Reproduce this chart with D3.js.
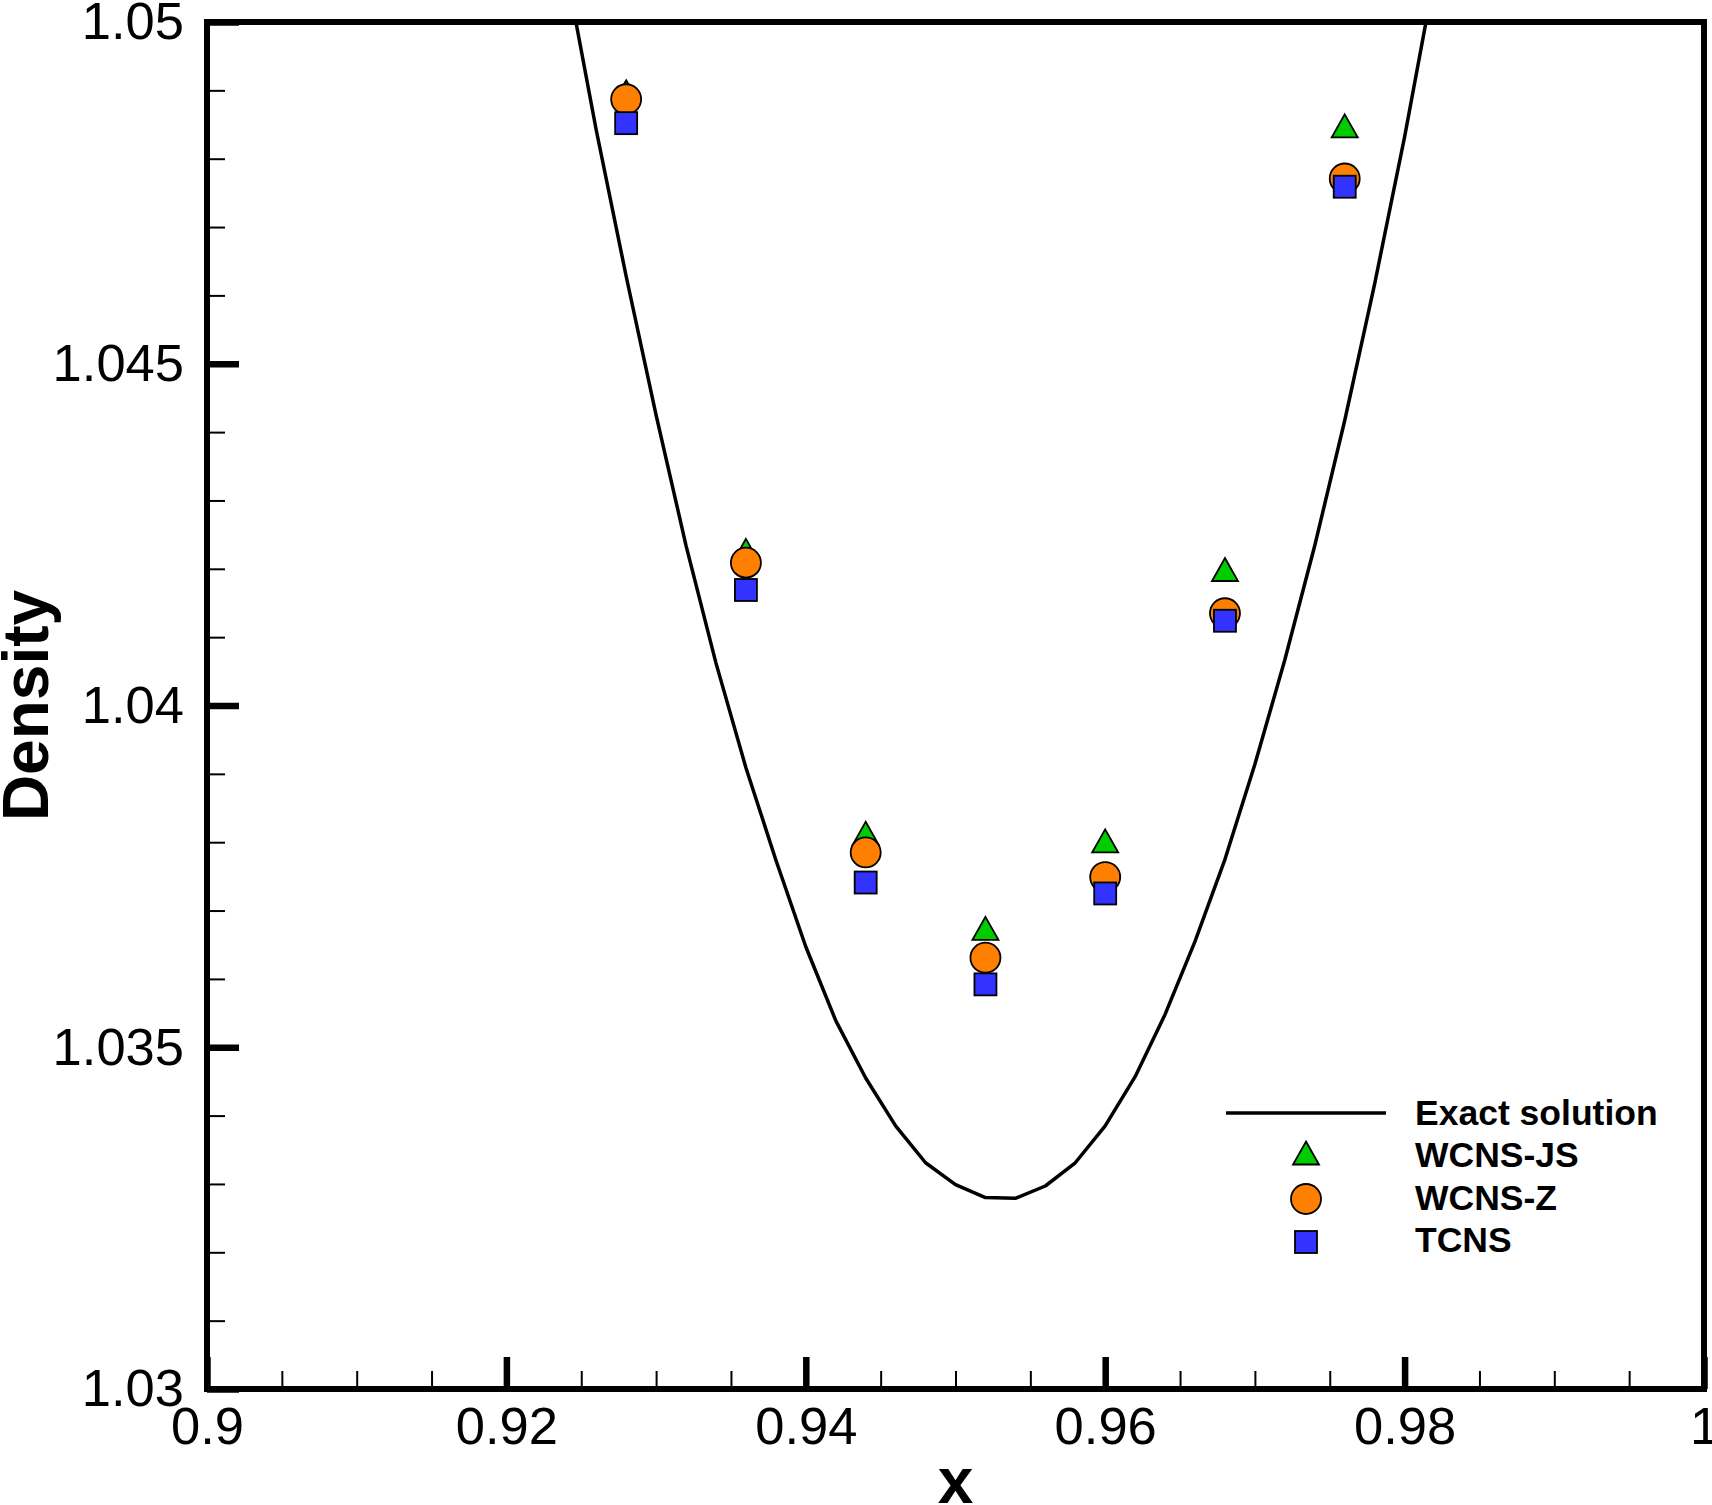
<!DOCTYPE html>
<html>
<head>
<meta charset="utf-8">
<script src="https://cdn.jsdelivr.net/npm/d3@7"></script>
<style>
  body { margin: 0; background: #fff; }
  svg { display: block; font-family: "Liberation Sans", Arial, sans-serif; }
</style>
</head>
<body>
<div id="chart"></div>
<script>
// ---------------- data ----------------
var xExact = [0.924, 0.926, 0.928, 0.930, 0.932, 0.934, 0.936, 0.938, 0.940, 0.942,
              0.944, 0.946, 0.948, 0.950, 0.952, 0.954, 0.956, 0.958, 0.960, 0.962,
              0.964, 0.966, 0.968, 0.970, 0.972, 0.974, 0.976, 0.978, 0.980, 0.982];
var rhoExact = [1.05075, 1.04842, 1.04628, 1.04425, 1.04234, 1.04062, 1.03909, 1.03774, 1.03647, 1.03539,
                1.03455, 1.03385, 1.03331, 1.03299, 1.03280, 1.03279, 1.03297, 1.03331, 1.03385, 1.03457,
                1.03548, 1.03655, 1.03775, 1.03914, 1.04067, 1.04234, 1.04417, 1.04617, 1.04832, 1.05067];

var xPts   = [0.928, 0.936, 0.944, 0.952, 0.960, 0.968, 0.976];
var wcnsJS = [1.04898, 1.04227, 1.03813, 1.03674, 1.03802, 1.04199, 1.04848];
var wcnsZ  = [1.04887, 1.04209, 1.03785, 1.03631, 1.03749, 1.04135, 1.04771];
var tcns   = [1.04852, 1.04169, 1.03741, 1.03592, 1.03725, 1.04124, 1.04759];

var xMajor = [0.9, 0.92, 0.94, 0.96, 0.98, 1];
var yMajor = [1.03, 1.035, 1.04, 1.045, 1.05];
var xMinorStep = 0.005;
var yMinorStep = 0.001;

var legendNames = ["Exact solution", "WCNS-JS", "WCNS-Z", "TCNS"];

// ---------------- layout ----------------
var width = 1712;
var height = 1505;
var pLeft = 207, pRight = 1704, pTop = 22, pBottom = 1389;
let green = "#00CC00";
let orange = "#FF8000";
let blue = "#3333FF";

var svg = d3.select("#chart").append("svg")
  .attr("width", width)
  .attr("height", height);

var x = d3.scaleLinear().domain([0.9, 1]).range([pLeft, pRight]);
var y = d3.scaleLinear().domain([1.03, 1.05]).range([pBottom, pTop]);

svg.append("clipPath").attr("id", "plotclip")
  .append("rect")
  .attr("x", pLeft).attr("y", pTop)
  .attr("width", pRight - pLeft).attr("height", pBottom - pTop);

//--------------- minor ticks ---------------
var xMinor = d3.range(0.9, 1.0001, xMinorStep).filter(function(d) {
  return !xMajor.some(function(m) { return Math.abs(m - d) < 1e-9; });
});
var yMinor = d3.range(1.03, 1.05001, yMinorStep).filter(function(d) {
  return !yMajor.some(function(m) { return Math.abs(m - d) < 1e-9; });
});

var gxMinor = svg.append("g")
  .attr("transform", "translate(0," + pBottom + ")")
  .call(d3.axisBottom(x).tickValues(xMinor).tickSize(-18).tickFormat(""));
var gyMinor = svg.append("g")
  .attr("transform", "translate(" + pLeft + ",0)")
  .call(d3.axisLeft(y).tickValues(yMinor).tickSize(-18).tickFormat(""));
[gxMinor, gyMinor].forEach(function(g) {
  g.select(".domain").remove();
  g.selectAll(".tick line").attr("stroke", "#000").attr("stroke-width", 2);
});

//--------------- major ticks + labels ---------------
var gx = svg.append("g")
  .attr("transform", "translate(0," + pBottom + ")")
  .call(d3.axisBottom(x).tickValues(xMajor).tickSize(-32).tickPadding(18)
        .tickFormat(function(d) { return d3.format("")(+d.toFixed(3)); }));
var gy = svg.append("g")
  .attr("transform", "translate(" + pLeft + ",0)")
  .call(d3.axisLeft(y).tickValues(yMajor).tickSize(-32).tickPadding(23)
        .tickFormat(function(d) { return d3.format("")(+d.toFixed(3)); }));
[gx, gy].forEach(function(g) {
  g.select(".domain").remove();
  g.selectAll(".tick line").attr("stroke", "#000").attr("stroke-width", 6.5);
  g.selectAll(".tick text")
    .attr("fill", "#000")
    .attr("font-size", 52.5)
    .attr("font-family", "Liberation Sans, Arial, sans-serif");
});

//--------------- exact solution ---------------
var exact = xExact.map(function(d, i) { return [d, rhoExact[i]]; });
svg.append("path")
  .datum(exact)
  .attr("clip-path", "url(#plotclip)")
  .attr("fill", "none")
  .attr("stroke", "#000")
  .attr("stroke-width", 3.5)
  .attr("stroke-linejoin", "round")
  .attr("d", d3.line().x(function(d) { return x(d[0]); }).y(function(d) { return y(d[1]); }));

//--------------- symbols ---------------
function triangle(cx, cy) {
  return (cx) + "," + (cy - 11.5) + " " + (cx + 13) + "," + (cy + 11.5) + " " + (cx - 13) + "," + (cy + 11.5);
}

var gSym = svg.append("g").attr("stroke", "#000").attr("stroke-width", 1.8);

gSym.selectAll(".tri").data(xPts).enter().append("polygon")
  .attr("class", "tri")
  .attr("points", function(d, i) { return triangle(x(d), y(wcnsJS[i])); })
  .attr("fill", green);

gSym.selectAll(".circ").data(xPts).enter().append("circle")
  .attr("class", "circ")
  .attr("cx", function(d) { return x(d); })
  .attr("cy", function(d, i) { return y(wcnsZ[i]); })
  .attr("r", 15)
  .attr("fill", orange);

gSym.selectAll(".sq").data(xPts).enter().append("rect")
  .attr("class", "sq")
  .attr("x", function(d) { return x(d) - 11; })
  .attr("y", function(d, i) { return y(tcns[i]) - 11; })
  .attr("width", 22)
  .attr("height", 22)
  .attr("fill", blue);

//--------------- frame ---------------
svg.append("rect")
  .attr("x", pLeft).attr("y", pTop)
  .attr("width", pRight - pLeft).attr("height", pBottom - pTop)
  .attr("fill", "none")
  .attr("stroke", "#000")
  .attr("stroke-width", 6);

//--------------- axis titles ---------------
svg.append("text")
  .attr("transform", "translate(48," + ((pTop + pBottom) / 2) + ") rotate(-90)")
  .attr("text-anchor", "middle")
  .attr("font-size", 64)
  .attr("font-weight", "bold")
  .text("Density");

svg.append("text")
  .attr("x", (pLeft + pRight) / 2)
  .attr("y", 1503)
  .attr("text-anchor", "middle")
  .attr("font-size", 64)
  .attr("font-weight", "bold")
  .text("x");

//--------------- legend ---------------
var legend = svg.append("g");
var lgBase = [1125, 1167, 1210, 1252];
var lgX = 1306;

legend.append("line")
  .attr("x1", 1226).attr("x2", 1386)
  .attr("y1", 1113).attr("y2", 1113)
  .attr("stroke", "#000").attr("stroke-width", 3.5);

legend.append("polygon")
  .attr("points", triangle(lgX, 1153))
  .attr("fill", green).attr("stroke", "#000").attr("stroke-width", 1.8);
legend.append("circle")
  .attr("cx", lgX).attr("cy", 1199).attr("r", 15)
  .attr("fill", orange).attr("stroke", "#000").attr("stroke-width", 1.8);
legend.append("rect")
  .attr("x", lgX - 11).attr("y", 1242 - 11).attr("width", 22).attr("height", 22)
  .attr("fill", blue).attr("stroke", "#000").attr("stroke-width", 1.8);

legend.selectAll(".lgtext").data(legendNames).enter().append("text")
  .attr("class", "lgtext")
  .attr("x", 1415)
  .attr("y", function(d, i) { return lgBase[i]; })
  .attr("font-size", 35.5)
  .attr("font-weight", "bold")
  .text(function(d) { return d; });
</script>
</body>
</html>
